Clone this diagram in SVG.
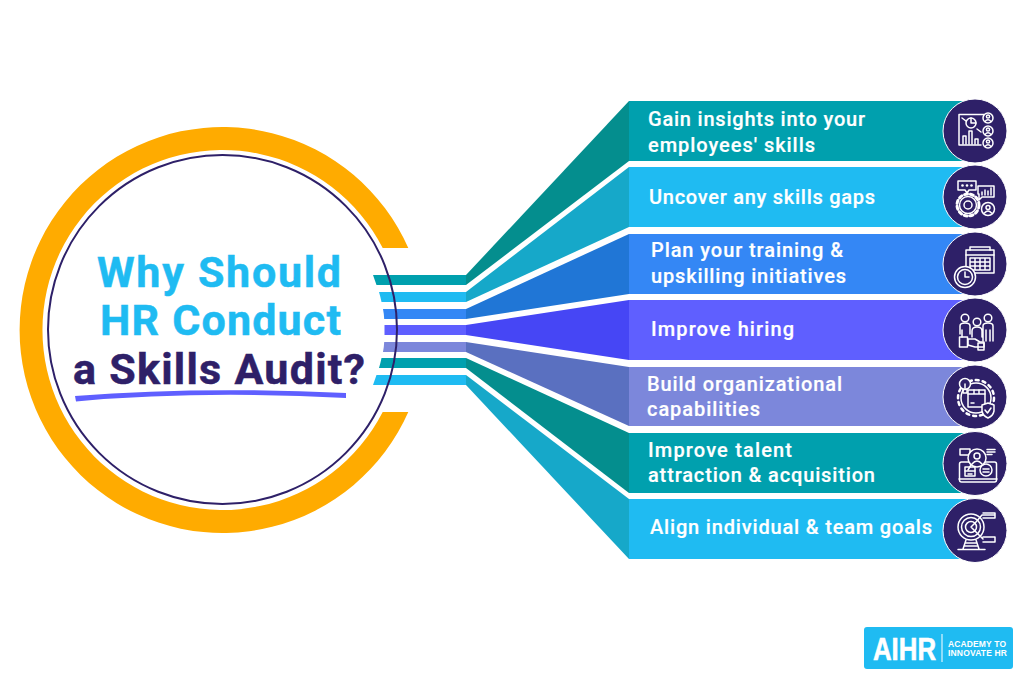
<svg xmlns="http://www.w3.org/2000/svg" width="1024" height="680" viewBox="0 0 1024 680">
<style>
text{font-family:Roboto,"Liberation Sans",sans-serif}
.t{font-size:20px;font-weight:500;fill:#fff;stroke:#fff;stroke-width:.2}
.h{font-size:43px;font-weight:700;text-anchor:start;stroke-width:.5}
.i{fill:none;stroke:#fff;stroke-width:1.500;stroke-linejoin:round;stroke-linecap:round}
.d{fill:#2e2068;stroke:#fff;stroke-width:1}
.teal{fill:#00a0ae}.sky{fill:#1fbbf2}.blue{fill:#3487f5}.ind{fill:#5f5fff}.per{fill:#7c87db}
.fteal{fill:#048e8e}.fsky{fill:#16a8c9}.fblue{fill:#2076d6}.find{fill:#4646f5}.fper{fill:#5a70c0}
</style>
<rect width="1024" height="680" fill="#fff"/>
<g id="hub">
<path d="M408.300 248A203 203 0 1 0 408.300 412L382.700 412A180 180 0 1 1 382.700 248Z" fill="#ffab00"/>
<circle cx="222.500" cy="329.500" r="174.500" fill="#fff"/>
</g>
<g id="connectors">
<path class="teal" d="M373 275H466V285H376.500Z"/>
<path class="sky" d="M379 292H466V302H381.500Q380.500 297 379 292Z"/>
<path class="blue" d="M383 309H466V319H384.200Q384 314 383 309Z"/>
<path class="ind" d="M384.500 325H466V335H384.500Z"/>
<path class="per" d="M384.200 342H466V352H383Q384 347 384.200 342Z"/>
<path class="teal" d="M381.500 358H466V368H379Q380.500 363 381.500 358Z"/>
<path class="sky" d="M376.500 375H466V385H373Z"/>
<polygon class="fteal" points="466,275 629,101 629,161 466,285"/>
<polygon class="fsky" points="466,292 629,167 629,227 466,302"/>
<polygon class="fblue" points="466,309 629,234 629,294 466,319"/>
<polygon class="find" points="466,325 629,300 629,360 466,335"/>
<polygon class="fper" points="466,342 629,367 629,426 466,352"/>
<polygon class="fteal" points="466,358 629,433 629,493 466,368"/>
<polygon class="fsky" points="466,375 629,499 629,559 466,385"/>
</g>
<g id="hub-title">
<circle cx="222.500" cy="329.500" r="174.500" fill="none" stroke="#2e2068" stroke-width="2"/>
<text class="h" x="97" y="287" fill="#1fbbf2" stroke="#1fbbf2" textLength="244">Why Should</text>
<text class="h" x="100" y="335" fill="#1fbbf2" stroke="#1fbbf2" textLength="241">HR Conduct</text>
<text class="h" x="73" y="384" fill="#2e2068" stroke="#2e2068" textLength="292">a Skills Audit?</text>
<path d="M75 396Q200 386.200 346 393L346 398Q200 390.200 76 401.500Z" fill="#5f5fff"/>
</g>
<g id="item1"><rect class="teal" x="629" y="101" width="346" height="60"/>
<text class="t" x="648" y="126" textLength="217">Gain insights into your</text><text class="t" x="648" y="152" textLength="167">employees' skills</text>
<circle class="d" cx="975" cy="131" r="32"/>
<g class="i"><path d="M984 114.500H959V145H981"/><circle cx="971" cy="123" r="5"/><path d="M971 123V118M971 123H976M962 118L966 121M977 129L981 132"/><path d="M963 144V136H966V144M969 144V131H972V144M975 144V139H978V144"/><circle cx="988" cy="118" r="5"/><circle cx="988" cy="131" r="5"/><circle cx="988" cy="143" r="5"/><circle cx="988" cy="116.500" r="1.600"/><circle cx="988" cy="129.500" r="1.600"/><circle cx="988" cy="141.500" r="1.600"/><path d="M985 121.500Q988 118 991 121.500M985 134.500Q988 131 991 134.500M985 146.500Q988 143 991 146.500"/></g></g>
<g id="item2"><rect class="sky" x="629" y="167" width="346" height="60"/>
<text class="t" x="649" y="204" textLength="226">Uncover any skills gaps</text>
<circle class="d" cx="975" cy="197" r="32"/>
<g class="i"><path d="M958 181H976V190H969L967 193L965 190H958Z"/><path d="M978 186H994V197H982L979 200V194H978Z"/><path d="M982 195V192M985 195V190M988 195V191M991 195V188"/><circle cx="968" cy="205" r="8.500"/><circle cx="968" cy="205" r="4"/><circle cx="968" cy="205" r="11" stroke-width="3" stroke-dasharray="3 3"/><circle cx="988" cy="209" r="6.500"/><circle cx="988" cy="207.500" r="2"/><path d="M984.500 213Q988 209 991.500 213"/></g>
<g fill="#fff"><circle cx="962.500" cy="185.500" r="1.300"/><circle cx="967" cy="185.500" r="1.300"/><circle cx="971.500" cy="185.500" r="1.300"/></g></g>
<g id="item3"><rect class="blue" x="629" y="234" width="346" height="60"/>
<text class="t" x="651" y="257" textLength="192">Plan your training &amp;</text><text class="t" x="651" y="283" textLength="195">upskilling initiatives</text>
<circle class="d" cx="975" cy="264" r="32"/>
<g class="i"><rect x="966" y="250" width="28" height="23"/><path d="M966 255H994M970 250V247H990V250"/><path d="M970 258H990V270H970ZM970 262H990M970 266H990M975 258V270M980 258V270M985 258V270"/><circle cx="965" cy="277" r="10.500" fill="#2e2068"/><circle cx="965" cy="277" r="7.500"/><path d="M965 272V277H969"/></g></g>
<g id="item4"><rect class="ind" x="629" y="300" width="346" height="60"/>
<text class="t" x="651" y="336" textLength="143">Improve hiring</text>
<circle class="d" cx="975" cy="330" r="32"/>
<g class="i"><circle cx="965" cy="318" r="3.800"/><circle cx="977" cy="322" r="3.800"/><circle cx="988" cy="318" r="3.800"/><path d="M960 334V326Q960 323 965 323Q970 323 970 326V334M983 341V326Q983 323 988 323Q993 323 993 326V341M986 330V341M990 330V341M972 337V331Q972 327 977 327Q982 327 982 331V337M962 330V337"/><rect x="959.500" y="337" width="8" height="10"/><path d="M968 339H975L980 342H984V347H975L968 345Z"/><rect x="978" y="343" width="6" height="7"/></g></g>
<g id="item5"><rect class="per" x="629" y="367" width="346" height="59"/>
<text class="t" x="647" y="391" textLength="195">Build organizational</text><text class="t" x="647" y="416" textLength="113">capabilities</text>
<circle class="d" cx="975" cy="397" r="32"/>
<g class="i"><circle cx="976" cy="398" r="15"/><circle cx="976" cy="398" r="18" stroke-width="2.500" stroke-dasharray="3 4"/><circle cx="965" cy="384" r="5.500" fill="#2e2068"/><path d="M963 389V393H967V389"/><path d="M965 384V389"/><rect x="968" y="390" width="17" height="17" fill="#2e2068"/><path d="M968 394H985M974 390V394H979V390M971 403H974"/><path d="M988 403L994 405V411Q993 416 988 418Q983 416 982 411V405Z" fill="#2e2068"/><path d="M985 410L987.500 413L991 408"/></g></g>
<g id="item6"><rect class="teal" x="629" y="433" width="346" height="60"/>
<text class="t" x="648" y="457" textLength="144">Improve talent</text><text class="t" x="648" y="482" textLength="227">attraction &amp; acquisition</text>
<circle class="d" cx="975" cy="463.500" r="32"/>
<g class="i"><rect x="959.500" y="462" width="37" height="20" rx="2"/><path d="M959 479H997"/><rect x="965" y="467" width="10" height="9"/><path d="M965 471H975M968 474H972"/><circle cx="986" cy="470" r="6"/><path d="M983 469H989M983 472H989"/><path d="M960 449H970V455H960Z"/><circle cx="977" cy="458" r="9" fill="#2e2068"/><circle cx="977" cy="456" r="3"/><path d="M972 464Q977 458 982 464M971 465L968 470"/><path d="M987 449.500H995M987 452H995M987 454.500H992"/></g></g>
<g id="item7"><rect class="sky" x="629" y="499" width="346" height="60"/>
<text class="t" x="650" y="534" textLength="282">Align individual &amp; team goals</text>
<circle class="d" cx="975" cy="530.500" r="32"/>
<g class="i"><circle cx="971" cy="527" r="13"/><circle cx="971" cy="527" r="9.500"/><circle cx="971" cy="527" r="5.500"/><path d="M971 527L976 522M976 522L982 515H995M983 513H995V518H983M971 527L983 539M983 537H995V542H983"/><path d="M966 540L963 549M976 540L979 549M958 549.500H985M966 543H976M965 546H977"/></g></g>
<g id="logo"><rect x="864" y="627" width="149" height="42" rx="3" fill="#1fbbf2"/>
<text x="873" y="660" textLength="63" lengthAdjust="spacingAndGlyphs" style="font-family:'Liberation Sans',sans-serif;font-size:32px;font-weight:700;fill:#fff;stroke:#fff;stroke-width:.6">AIHR</text>
<rect x="941.500" y="634" width="1" height="28" fill="#fff"/>
<text x="948" y="647" textLength="58" style="font-family:'Liberation Sans',sans-serif;font-size:8.500px;font-weight:700;fill:#fff">ACADEMY TO</text>
<text x="948" y="656" textLength="59" style="font-family:'Liberation Sans',sans-serif;font-size:8.500px;font-weight:700;fill:#fff">INNOVATE HR</text></g>
</svg>
